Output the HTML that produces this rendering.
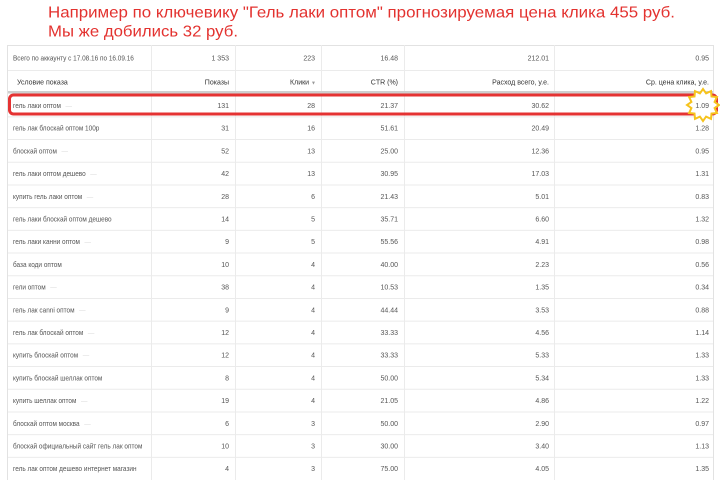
<!DOCTYPE html>
<html><head><meta charset="utf-8"><style>
html,body{margin:0;padding:0;background:#fff;width:720px;height:480px;overflow:hidden}
svg{display:block}
text{font-family:"Liberation Sans","DejaVu Sans",sans-serif}
.t{font-size:7px;fill:#555}
.h{font-size:7px;fill:#333}
.ic{fill:#d8d8d8;font-size:7px}
</style></head><body>
<svg width="720" height="480" viewBox="0 0 720 480" xmlns="http://www.w3.org/2000/svg">
<rect width="720" height="480" fill="#fff"/>
<text x="48" y="17.5" font-size="16" fill="#e3322f" textLength="627" lengthAdjust="spacingAndGlyphs">Например по ключевику "Гель лаки оптом" прогнозируемая цена клика  455 руб.</text>
<text x="48" y="36.5" font-size="16" fill="#e3322f" textLength="190" lengthAdjust="spacingAndGlyphs">Мы же добились 32 руб.</text>

<!-- table frame -->
<rect x="7.5" y="45.5" width="706" height="440" fill="#fff" stroke="#e2e2e2"/>
<g stroke="#ebebeb" stroke-width="1">
<line x1="151.5" y1="45" x2="151.5" y2="480"/>
<line x1="235.5" y1="45" x2="235.5" y2="480"/>
<line x1="321.5" y1="45" x2="321.5" y2="480"/>
<line x1="404.5" y1="45" x2="404.5" y2="480"/>
<line x1="554.5" y1="45" x2="554.5" y2="480"/>
<line x1="8" y1="70.5" x2="713" y2="70.5"/>
<line x1="8" y1="116.85" x2="713" y2="116.85"/>
<line x1="8" y1="139.55" x2="713" y2="139.55"/>
<line x1="8" y1="162.25" x2="713" y2="162.25"/>
<line x1="8" y1="184.95" x2="713" y2="184.95"/>
<line x1="8" y1="207.65" x2="713" y2="207.65"/>
<line x1="8" y1="230.35" x2="713" y2="230.35"/>
<line x1="8" y1="253.05" x2="713" y2="253.05"/>
<line x1="8" y1="275.75" x2="713" y2="275.75"/>
<line x1="8" y1="298.45" x2="713" y2="298.45"/>
<line x1="8" y1="321.15" x2="713" y2="321.15"/>
<line x1="8" y1="343.85" x2="713" y2="343.85"/>
<line x1="8" y1="366.55" x2="713" y2="366.55"/>
<line x1="8" y1="389.25" x2="713" y2="389.25"/>
<line x1="8" y1="411.95" x2="713" y2="411.95"/>
<line x1="8" y1="434.65" x2="713" y2="434.65"/>
<line x1="8" y1="457.35" x2="713" y2="457.35"/>
</g>
<rect x="8" y="91" width="705" height="2.5" fill="#cfcfcf"/>

<!-- label column -->
<g class="t" transform="translate(13,0) scale(0.92,1)">
<text x="0" y="60.5">Всего по аккаунту с 17.08.16 по 16.09.16</text>
<text x="0" y="108">гель лаки оптом<tspan class="ic" dx="5">—</tspan></text>
<text x="0" y="130.7">гель лак блоскай оптом 100р</text>
<text x="0" y="153.4">блоскай оптом<tspan class="ic" dx="5">—</tspan></text>
<text x="0" y="176.1">гель лаки оптом дешево<tspan class="ic" dx="5">—</tspan></text>
<text x="0" y="198.8">купить гель лаки оптом<tspan class="ic" dx="5">—</tspan></text>
<text x="0" y="221.5">гель лаки блоскай оптом дешево</text>
<text x="0" y="244.2">гель лаки канни оптом<tspan class="ic" dx="5">—</tspan></text>
<text x="0" y="266.9">база коди оптом</text>
<text x="0" y="289.6">гели оптом<tspan class="ic" dx="5">—</tspan></text>
<text x="0" y="312.3">гель лак canni оптом<tspan class="ic" dx="5">—</tspan></text>
<text x="0" y="335">гель лак блоскай оптом<tspan class="ic" dx="5">—</tspan></text>
<text x="0" y="357.7">купить блоскай оптом<tspan class="ic" dx="5">—</tspan></text>
<text x="0" y="380.4">купить блоскай шеллак оптом</text>
<text x="0" y="403.1">купить шеллак оптом<tspan class="ic" dx="5">—</tspan></text>
<text x="0" y="425.8">блоскай оптом москва<tspan class="ic" dx="5">—</tspan></text>
<text x="0" y="448.5">блоскай официальный сайт гель лак оптом</text>
<text x="0" y="471.2">гель лак оптом дешево интернет магазин</text>
</g>

<!-- header -->
<g class="h">
<text x="17" y="84.5">Условие показа</text>
<text x="229" y="84.5" text-anchor="end">Показы</text>
<text x="316" y="84.5" text-anchor="end">Клики <tspan fill="#999" font-size="5">▼</tspan></text>
<text x="398" y="84.5" text-anchor="end">CTR (%)</text>
<text x="549" y="84.5" text-anchor="end">Расход всего, у.е.</text>
<text x="709" y="84.5" text-anchor="end">Ср. цена клика, у.е.</text>
</g>

<!-- Показы -->
<g class="t" text-anchor="end">
<text x="229" y="60.5">1 353</text>
<text x="229" y="108">131</text>
<text x="229" y="130.7">31</text>
<text x="229" y="153.4">52</text>
<text x="229" y="176.1">42</text>
<text x="229" y="198.8">28</text>
<text x="229" y="221.5">14</text>
<text x="229" y="244.2">9</text>
<text x="229" y="266.9">10</text>
<text x="229" y="289.6">38</text>
<text x="229" y="312.3">9</text>
<text x="229" y="335">12</text>
<text x="229" y="357.7">12</text>
<text x="229" y="380.4">8</text>
<text x="229" y="403.1">19</text>
<text x="229" y="425.8">6</text>
<text x="229" y="448.5">10</text>
<text x="229" y="471.2">4</text>
</g>
<!-- Клики -->
<g class="t" text-anchor="end">
<text x="315" y="60.5">223</text>
<text x="315" y="108">28</text>
<text x="315" y="130.7">16</text>
<text x="315" y="153.4">13</text>
<text x="315" y="176.1">13</text>
<text x="315" y="198.8">6</text>
<text x="315" y="221.5">5</text>
<text x="315" y="244.2">5</text>
<text x="315" y="266.9">4</text>
<text x="315" y="289.6">4</text>
<text x="315" y="312.3">4</text>
<text x="315" y="335">4</text>
<text x="315" y="357.7">4</text>
<text x="315" y="380.4">4</text>
<text x="315" y="403.1">4</text>
<text x="315" y="425.8">3</text>
<text x="315" y="448.5">3</text>
<text x="315" y="471.2">3</text>
</g>
<!-- CTR -->
<g class="t" text-anchor="end">
<text x="398" y="60.5">16.48</text>
<text x="398" y="108">21.37</text>
<text x="398" y="130.7">51.61</text>
<text x="398" y="153.4">25.00</text>
<text x="398" y="176.1">30.95</text>
<text x="398" y="198.8">21.43</text>
<text x="398" y="221.5">35.71</text>
<text x="398" y="244.2">55.56</text>
<text x="398" y="266.9">40.00</text>
<text x="398" y="289.6">10.53</text>
<text x="398" y="312.3">44.44</text>
<text x="398" y="335">33.33</text>
<text x="398" y="357.7">33.33</text>
<text x="398" y="380.4">50.00</text>
<text x="398" y="403.1">21.05</text>
<text x="398" y="425.8">50.00</text>
<text x="398" y="448.5">30.00</text>
<text x="398" y="471.2">75.00</text>
</g>
<!-- Расход -->
<g class="t" text-anchor="end">
<text x="549" y="60.5">212.01</text>
<text x="549" y="108">30.62</text>
<text x="549" y="130.7">20.49</text>
<text x="549" y="153.4">12.36</text>
<text x="549" y="176.1">17.03</text>
<text x="549" y="198.8">5.01</text>
<text x="549" y="221.5">6.60</text>
<text x="549" y="244.2">4.91</text>
<text x="549" y="266.9">2.23</text>
<text x="549" y="289.6">1.35</text>
<text x="549" y="312.3">3.53</text>
<text x="549" y="335">4.56</text>
<text x="549" y="357.7">5.33</text>
<text x="549" y="380.4">5.34</text>
<text x="549" y="403.1">4.86</text>
<text x="549" y="425.8">2.90</text>
<text x="549" y="448.5">3.40</text>
<text x="549" y="471.2">4.05</text>
</g>
<!-- Ср. цена -->
<g class="t" text-anchor="end">
<text x="709" y="60.5">0.95</text>
<text x="709" y="130.7">1.28</text>
<text x="709" y="153.4">0.95</text>
<text x="709" y="176.1">1.31</text>
<text x="709" y="198.8">0.83</text>
<text x="709" y="221.5">1.32</text>
<text x="709" y="244.2">0.98</text>
<text x="709" y="266.9">0.56</text>
<text x="709" y="289.6">0.34</text>
<text x="709" y="312.3">0.88</text>
<text x="709" y="335">1.14</text>
<text x="709" y="357.7">1.33</text>
<text x="709" y="380.4">1.33</text>
<text x="709" y="403.1">1.22</text>
<text x="709" y="425.8">0.97</text>
<text x="709" y="448.5">1.13</text>
<text x="709" y="471.2">1.35</text>
</g>

<!-- highlight box -->
<rect x="9.5" y="95" width="707" height="19" rx="4" ry="4" fill="none" stroke="#e53333" stroke-width="3"/>
<!-- starburst -->
<polygon fill="#fff" stroke="#f6c31c" stroke-width="2" stroke-linejoin="miter"
points="719,105 714.6,108.1 716.9,113 711.5,113.5 711,118.9 706.1,116.6 703,121 699.9,116.6 695,118.9 694.5,113.5 689.1,113 691.4,108.1 687,105 691.4,101.9 689.1,97 694.5,96.5 695,91.1 699.9,93.4 703,89 706.1,93.4 711,91.1 711.5,96.5 716.9,97 714.6,101.9"/>
<text class="t" x="709" y="108" text-anchor="end">1.09</text>
</svg>
</body></html>
